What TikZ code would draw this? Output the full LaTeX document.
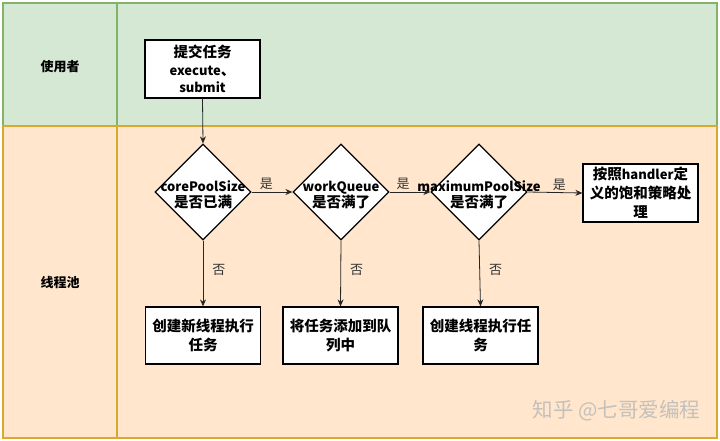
\documentclass[tikz,border=0pt]{standalone}
\usepackage{fontspec}
\setmainfont{Noto Sans CJK SC}
\usetikzlibrary{shapes.geometric,arrows.meta}
\definecolor{lanegreen}{HTML}{D5E8D4}
\definecolor{lanegreenline}{HTML}{82B366}
\definecolor{laneorange}{HTML}{FFE6CC}
\definecolor{laneorangeline}{HTML}{D9A82E}
\definecolor{wmgray}{HTML}{C4C0BC}
\definecolor{lblgray}{HTML}{333333}
\newcommand{\lat}[1]{{\fontsize{13}{15}\selectfont #1}}
\tikzset{
  lanebox/.style={line width=1.6pt},
  procbox/.style={draw=black, fill=white, line width=1.2pt, minimum width=115pt, minimum height=58pt, inner sep=2pt, align=center, font=\bfseries\fontsize{14.5}{19}\selectfont},
  decbox/.style={draw=black, fill=white, line width=1.2pt, diamond, minimum width=96pt, minimum height=96pt, inner sep=0pt},
  dectext/.style={align=center, font=\bfseries\fontsize{14.5}{16.5}\selectfont, inner sep=0pt},
  flow/.style={-{Stealth[length=7pt,width=6pt]}, line width=0.8pt, draw=black!85},
  yeslbl/.style={font=\fontsize{13}{15}\selectfont, text=lblgray, inner sep=1pt},
  headtext/.style={font=\bfseries\fontsize{13}{15}\selectfont}
}
\begin{document}
\begin{tikzpicture}[x=1pt,y=-1pt]
\useasboundingbox (0,0) rectangle (720,441);
\fill[white] (0,0) rectangle (720,441);
% lanes
\draw[lanebox, fill=lanegreen, draw=lanegreenline] (3,3) rectangle (717,126);
\draw[lanebox, draw=lanegreenline] (3,3) rectangle (117,126);
\draw[lanebox, fill=laneorange, draw=laneorangeline] (3,126) rectangle (717,438);
\draw[lanebox, draw=laneorangeline] (3,126) rectangle (117,438);
\node[headtext] (h1) at (60,67) {使用者};
\node[headtext] (h2) at (60,283) {线程池};
% nodes
\node[procbox, font=\bfseries\fontsize{14.5}{17.5}\selectfont] (submit) at (202.5,69) {提交任务\\\lat{execute}、\\\lat{submit}};
\node[decbox] (d1) at (203,192) {};
\node[dectext] (d1t) at (203,195) {\lat{corePoolSize}\\是否已满};
\node[decbox] (d2) at (341,192) {};
\node[dectext] (d2t) at (341,195) {\lat{workQueue}\\是否满了};
\node[decbox] (d3) at (479,192) {};
\node[dectext] (d3t) at (479,195) {\lat{maximumPoolSize}\\是否满了};
\node[procbox] (rej) at (640.5,193) {按照\lat{handler}定\\义的饱和策略处\\理};
\node[procbox, minimum height=57pt] (b1) at (203,335.5) {创建新线程执行\\任务};
\node[procbox, minimum height=57pt] (b2) at (340.5,335.5) {将任务添加到队\\列中};
\node[procbox, minimum height=57pt] (b3) at (480.5,335.5) {创建线程执行任\\务};
% connectors
\draw[flow] (submit.south) -- (d1.north);
\draw[flow] (d1.east) -- node[yeslbl, pos=0.36, above=1pt] (y1) {是} (d2.west);
\draw[flow] (d2.east) -- node[yeslbl, pos=0.33, above=1pt] (y2) {是} (d3.west);
\draw[flow] (d3.east) -- node[yeslbl, pos=0.58, above=1pt] (y3) {是} (rej.west);
\draw[flow] (d1.south) -- node[yeslbl, pos=0.45, right=8pt] (n1) {否} (b1.north);
\draw[flow] (d2.south) -- node[yeslbl, pos=0.45, right=8pt] (n2) {否} (b2.north);
\draw[flow] (d3.south) -- node[yeslbl, pos=0.45, right=8pt] (n3) {否} (b3.north);
% watermark
\node[text=wmgray, font=\fontsize{20.5}{22}\selectfont, anchor=east] (wm) at (704,411) {知乎 @七哥爱编程};
\end{tikzpicture}
\end{document}
